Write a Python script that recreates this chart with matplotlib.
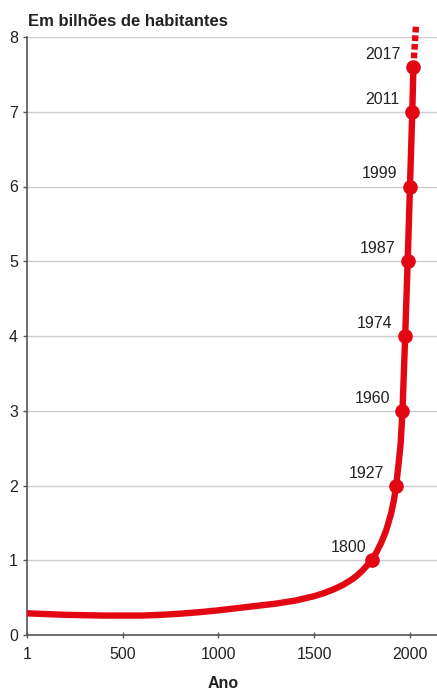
import matplotlib
matplotlib.use("Agg")
import matplotlib.pyplot as plt

# dados: população mundial (bilhões)
anos = [1, 100, 200, 300, 400, 500, 600, 700, 800, 900, 1000, 1100, 1200, 1300, 1400,
        1500, 1550, 1600, 1650, 1700, 1725, 1750, 1775, 1800, 1825, 1850, 1875, 1900,
        1915, 1927, 1940, 1950, 1960, 1974, 1987, 1999, 2011, 2017]
populacao = [0.29, 0.28, 0.27, 0.265, 0.26, 0.26, 0.26, 0.27, 0.285, 0.305, 0.33, 0.36,
             0.39, 0.42, 0.46, 0.52, 0.56, 0.61, 0.67, 0.75, 0.80, 0.86, 0.93, 1.0,
             1.11, 1.24, 1.40, 1.62, 1.80, 2.0, 2.3, 2.55, 3.0, 4.0, 5.0, 6.0, 7.0, 7.6]

# projeção (tracejado)
anos_proj = [2017, 2030]
pop_proj = [7.6, 8.14]

# marcos com rótulo
marcos = [1800, 1927, 1960, 1974, 1987, 1999, 2011, 2017]
marcos_pop = [1, 2, 3, 4, 5, 6, 7, 7.6]

xticks = [1, 500, 1000, 1500, 2000]
yticks = [0, 1, 2, 3, 4, 5, 6, 7, 8]

vermelho = "#e30613"
cinza = "#555555"
texto = "#222222"

plt.rcParams["font.family"] = ["Liberation Sans", "DejaVu Sans"]

fig = plt.figure(figsize=(4.37, 6.9), dpi=100)
ax = fig.add_axes([27 / 437, 1 - 635 / 690, 1 - 27 / 437, (635 - 37) / 690])

ax.plot(anos, populacao, color=vermelho, lw=4.6, solid_capstyle="butt",
        solid_joinstyle="round", zorder=3)
ax.plot(anos_proj, pop_proj, color=vermelho, lw=4.6, dashes=(0.9, 0.45),
        dash_capstyle="butt", clip_on=False, zorder=3)
ax.plot(marcos, marcos_pop, "o", color=vermelho, ms=9.5, zorder=4, clip_on=False)

for ano, p in zip(marcos, marcos_pop):
    dx = -4 if ano == 1800 else -9
    ax.annotate(str(ano), (ano, p), xytext=(dx, 9), textcoords="offset points",
                ha="right", va="center", fontsize=11.5, color=texto)

ax.set_xlim(1, 2140)
ax.set_ylim(0, 8)
ax.set_xticks(xticks)
ax.set_yticks(yticks)
ax.tick_params(axis="both", colors=cinza, labelcolor=texto, labelsize=11.5, length=3, width=1)
ax.tick_params(axis="x", direction="inout", length=5, pad=6)

ax.grid(axis="y", color="#cccccc", lw=1)
ax.set_axisbelow(True)
for lado in ["top", "right"]:
    ax.spines[lado].set_visible(False)
for lado in ["left", "bottom"]:
    ax.spines[lado].set_color(cinza)
    ax.spines[lado].set_linewidth(1.2)

ax.set_xlabel("Ano", fontsize=11.5, fontweight="bold", color=texto)
ax.xaxis.set_label_coords(196 / 410, -0.068)

fig.text(28 / 437, 1 - 22 / 690, "Em bilhões de habitantes", fontsize=12,
         fontweight="bold", color=texto, ha="left", va="center")

fig.savefig("out.png", dpi=100)
